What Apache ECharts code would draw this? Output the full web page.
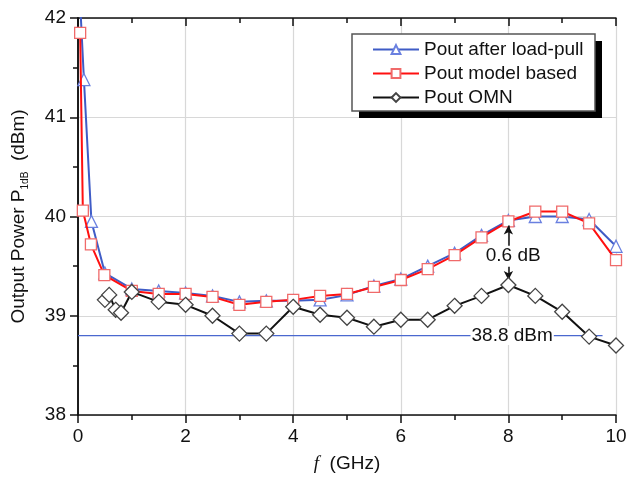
<!DOCTYPE html>
<html>
<head>
<meta charset="utf-8">
<script src="https://cdn.jsdelivr.net/npm/echarts@6/dist/echarts.min.js"></script>
<style>
  html, body { margin: 0; padding: 0; background: #fff; }
  #chart { width: 633px; height: 478px; }
</style>
</head>
<body>
<div id="chart"></div>
<script>
// 데이터
const loadPullF = [0.04, 0.11, 0.25, 0.5, 1, 1.5, 2, 2.5, 3, 3.5, 4, 4.5, 5, 5.5, 6, 6.5, 7, 7.5, 8, 8.5, 9, 9.5, 10];
const loadPullP = [42.15, 41.38, 39.95, 39.43, 39.27, 39.25, 39.23, 39.2, 39.14, 39.15, 39.15, 39.16, 39.21, 39.3, 39.37, 39.5, 39.63, 39.81, 39.96, 40.0, 40.0, 39.97, 39.7];

const modelF = [0.04, 0.09, 0.24, 0.49, 1, 1.5, 2, 2.5, 3, 3.5, 4, 4.5, 5, 5.5, 6, 6.5, 7, 7.5, 8, 8.5, 9, 9.5, 10];
const modelP = [41.85, 40.06, 39.72, 39.41, 39.25, 39.22, 39.22, 39.19, 39.11, 39.14, 39.16, 39.2, 39.22, 39.29, 39.36, 39.47, 39.61, 39.79, 39.95, 40.05, 40.05, 39.93, 39.56];

const omnF = [0.5, 0.58, 0.7, 0.8, 1, 1.5, 2, 2.5, 3, 3.5, 4, 4.5, 5, 5.5, 6, 6.5, 7, 7.5, 8, 8.5, 9, 9.5, 10];
const omnP = [39.16, 39.21, 39.06, 39.03, 39.24, 39.14, 39.11, 39.0, 38.82, 38.82, 39.09, 39.01, 38.98, 38.89, 38.96, 38.96, 39.1, 39.2, 39.31, 39.2, 39.04, 38.79, 38.7];

// 기준선 38.8 dBm, 0.6 dB 화살표
const refLevel = 38.8;
const refLineF = [0, 9.75];
const refLabelF = 8.07;
const gapF = 8;
const gapP = [39.36, 39.91];
const gapLabelP = 39.6;

const FONT = 'Liberation Sans, Arial, sans-serif';
const zip = (xs, ys) => xs.map((x, i) => [x, ys[i]]);

const chart = echarts.init(document.getElementById('chart'));

// 축 공통 설정
const axisLine = { show: true, lineStyle: { color: '#111', width: 1.5 } };

// 범례 상자 (그림자 포함)
const LEGEND_BOX = { x: 352, y: 34, width: 243, height: 77 };

const option = {
    animation: false,
    textStyle: { fontFamily: FONT },
    grid: { left: 77, right: 17, top: 18, bottom: 60 },
    graphic: [
        {
            type: 'rect',
            z: 3,
            shape: { x: LEGEND_BOX.x + 7, y: LEGEND_BOX.y + 7, width: LEGEND_BOX.width, height: LEGEND_BOX.height },
            style: { fill: '#000' },
            silent: true
        },
        {
            type: 'rect',
            z: 3,
            shape: { ...LEGEND_BOX },
            style: { fill: '#fff', stroke: '#555', lineWidth: 1.5 },
            silent: true
        }
    ],
    legend: {
        orient: 'vertical',
        left: 352,
        top: 34,
        z: 5,
        data: ['Pout after load-pull', 'Pout model based', 'Pout OMN'],
        itemWidth: 46,
        itemHeight: 11,
        itemGap: 5,
        padding: [6, 8, 6, 20],
        textStyle: { fontSize: 19, color: '#111', fontFamily: FONT }
    },
    xAxis: [{
        type: 'value',
        min: 0,
        max: 10,
        interval: 2,
        name: '{i|f}  (GHz)',
        nameLocation: 'middle',
        nameGap: 39,
        nameTextStyle: {
            fontSize: 19,
            color: '#111',
            rich: { i: { fontStyle: 'italic', fontSize: 19, color: '#111', fontFamily: 'Liberation Serif, serif' } }
        },
        axisLine,
        axisTick: { show: true, length: 8, lineStyle: { color: '#111', width: 1.5 } },
        minorTick: { show: true, splitNumber: 2, length: 5, lineStyle: { color: '#111', width: 1.5 } },
        axisLabel: { fontSize: 19, color: '#111', margin: 12 },
        splitLine: { show: true, lineStyle: { color: '#d8d8d8', width: 1.2 } }
    }, {
        type: 'value',
        position: 'top',
        min: 0,
        max: 10,
        interval: 2,
        axisLine,
        axisTick: { show: true, inside: true, length: 8, lineStyle: { color: '#111', width: 1.5 } },
        minorTick: { show: true, splitNumber: 2, length: 5, lineStyle: { color: '#111', width: 1.5 } },
        axisLabel: { show: false },
        splitLine: { show: false }
    }],
    yAxis: [{
        type: 'value',
        min: 38,
        max: 42,
        interval: 1,
        name: 'Output Power P{sub|1dB}  (dBm)',
        nameLocation: 'middle',
        nameGap: 48,
        nameTextStyle: {
            fontSize: 19,
            color: '#111',
            lineHeight: 22,
            rich: { sub: { fontSize: 10, color: '#111', lineHeight: 22, verticalAlign: 'bottom', padding: [8, 0, 0, 0] } }
        },
        axisLine,
        axisTick: { show: true, length: 8, lineStyle: { color: '#111', width: 1.5 } },
        minorTick: { show: true, splitNumber: 2, length: 5, lineStyle: { color: '#111', width: 1.5 } },
        axisLabel: { fontSize: 19, color: '#111', margin: 12 },
        splitLine: { show: true, lineStyle: { color: '#d8d8d8', width: 1.2 } }
    }, {
        type: 'value',
        position: 'right',
        min: 38,
        max: 42,
        interval: 1,
        axisLine,
        axisTick: { show: true, inside: true, length: 8, lineStyle: { color: '#111', width: 1.5 } },
        minorTick: { show: true, splitNumber: 2, length: 5, lineStyle: { color: '#111', width: 1.5 } },
        axisLabel: { show: false },
        splitLine: { show: false }
    }],
    series: [
        {
            // 38.8 dBm 기준선
            name: 'ref',
            type: 'line',
            data: zip(refLineF, [refLevel, refLevel]),
            symbol: 'none',
            silent: true,
            lineStyle: { color: '#4a68cf', width: 1.3 },
            z: 1,
            markPoint: {
                symbol: 'rect',
                symbolSize: 0,
                data: [{ coord: [refLabelF, refLevel] }],
                label: {
                    show: true,
                    position: 'inside',
                    formatter: '38.8 dBm',
                    fontSize: 19,
                    color: '#111',
                    backgroundColor: '#fff',
                    padding: [0, 1]
                }
            }
        },
        {
            name: 'Pout after load-pull',
            type: 'line',
            data: zip(loadPullF, loadPullP),
            symbol: 'triangle',
            symbolSize: 12,
            lineStyle: { color: '#3f5cc6', width: 2 },
            itemStyle: { color: '#fff', borderColor: '#6a80e0', borderWidth: 1.3 },
            z: 3
        },
        {
            name: 'Pout model based',
            type: 'line',
            data: zip(modelF, modelP),
            symbol: 'rect',
            symbolSize: 11,
            lineStyle: { color: '#ff1010', width: 2 },
            itemStyle: { color: '#fff', borderColor: '#f06a6a', borderWidth: 1.3 },
            z: 4
        },
        {
            name: 'Pout OMN',
            type: 'line',
            data: zip(omnF, omnP),
            symbol: 'diamond',
            symbolSize: 15,
            lineStyle: { color: '#111', width: 2 },
            itemStyle: { color: '#fff', borderColor: '#444', borderWidth: 1.3 },
            z: 5
        },
        {
            // 0.6 dB 화살표
            name: 'gap',
            type: 'line',
            data: [],
            silent: true,
            z: 6,
            markLine: {
                symbol: ['arrow', 'arrow'],
                symbolSize: [7, 9],
                lineStyle: { color: '#111', width: 1.5, type: 'solid' },
                label: { show: false },
                data: [[{ coord: [gapF, gapP[0]] }, { coord: [gapF, gapP[1]] }]]
            },
            markPoint: {
                symbol: 'rect',
                symbolSize: 0,
                data: [{ coord: [gapF + 0.09, gapLabelP] }],
                label: {
                    show: true,
                    position: 'inside',
                    formatter: '0.6 dB',
                    fontSize: 19,
                    color: '#111',
                    backgroundColor: '#fff',
                    padding: [1, 2]
                }
            }
        }
    ]
};

chart.setOption(option);
</script>
</body>
</html>
